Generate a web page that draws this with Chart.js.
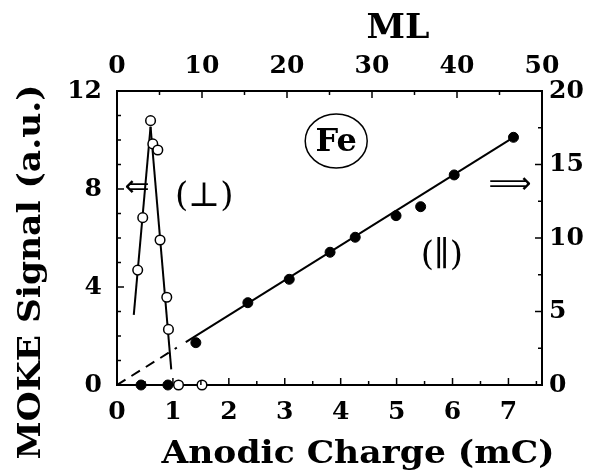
<!DOCTYPE html>
<html>
<head>
<meta charset="utf-8">
<script src="https://cdn.jsdelivr.net/npm/chart.js@4"></script>
<style>
  html, body { margin: 0; padding: 0; background: #fff; }
  #wrap { width: 600px; height: 470px; }
</style>
</head>
<body>
<div id="wrap"><canvas id="chart" width="600" height="470"></canvas></div>
<script>
// open circles: perpendicular signal (left axis, a.u.) vs anodic charge (mC)
const perpCharge = [0.37, 0.46, 0.60, 0.64, 0.73, 0.77, 0.89, 0.92, 1.10, 1.52];
const perpSignal = [4.69, 6.83, 10.79, 9.84, 9.59, 5.92, 3.58, 2.27, 0, 0];

// filled circles: parallel signal (right axis) vs anodic charge
const paraCharge = [0.43, 0.91, 1.41, 2.34, 3.08, 3.81, 4.26, 4.99, 5.43, 6.03, 7.09];
const paraSignal = [0, 0, 2.88, 5.60, 7.19, 9.03, 10.05, 11.52, 12.13, 14.29, 16.85];

// guide lines drawn through the points
const riseCharge = [0.30, 0.60];
const riseSignal = [2.86, 10.54];
const fallCharge = [0.60, 0.97];
const fallSignal = [10.54, 0.64];
const fitCharge = [1.23, 7.09];
const fitSignal = [2.92, 16.85];
const dashCharge = [0, 1.07];
const dashSignal = [0, 2.54];

// axis ranges
const chargeMax = 7.6;
const mlMax = 50;
const leftMax = 12;
const rightMax = 20;

// labels placed in the plot (x in mC, y in left axis units)
const notes = [
  { text: '\u21D0', x: 0.36, y: 8.12, font: '30px "DejaVu Sans"' },
  { text: '(\u22A5)', x: 1.56, y: 7.76, font: '34px "DejaVu Serif"' },
  { text: 'Fe', x: 3.92, y: 9.96, font: 'bold 32px "DejaVu Serif"', ring: true },
  { text: '\u27F9', x: 7.03, y: 8.24, font: '30px "DejaVu Sans"' },
  { text: '(\u2225)', x: 5.81, y: 5.35, font: '34px "DejaVu Serif"' }
];

const toPts = (xs, ys) => xs.map((x, i) => ({ x: x, y: ys[i] }));

const tickFont = { family: 'DejaVu Serif', size: 25, weight: 'bold' };

function fitText(ctx, text, x, y, width, rot) {
  ctx.save();
  ctx.translate(x, y);
  if (rot) ctx.rotate(rot);
  const w = ctx.measureText(text).width;
  ctx.scale(width / w, 1);
  ctx.fillText(text, 0, 0);
  ctx.restore();
}

const extras = {
  id: 'extras',
  afterDraw(chart) {
    const ctx = chart.ctx;
    const a = chart.chartArea;
    const sx = chart.scales.x, sy = chart.scales.y;
    ctx.save();
    ctx.strokeStyle = '#000';
    ctx.fillStyle = '#000';
    ctx.lineWidth = 1.5;

    // tick marks pointing into the plot
    ['x', 'x2', 'y', 'y2'].forEach(id => {
      const s = chart.scales[id];
      s.ticks.forEach(t => {
        const p = s.getPixelForValue(t.value);
        const len = t.label !== '' ? 7 : 4;
        ctx.beginPath();
        if (id === 'x') { ctx.moveTo(p, a.bottom); ctx.lineTo(p, a.bottom - len); }
        if (id === 'x2') { ctx.moveTo(p, a.top); ctx.lineTo(p, a.top + len); }
        if (id === 'y') { ctx.moveTo(a.left, p); ctx.lineTo(a.left + len, p); }
        if (id === 'y2') { ctx.moveTo(a.right, p); ctx.lineTo(a.right - len, p); }
        ctx.stroke();
      });
    });

    // axis titles
    ctx.textAlign = 'center';
    ctx.textBaseline = 'alphabetic';
    ctx.font = 'bold 32px "DejaVu Serif"';
    fitText(ctx, 'Anodic Charge (mC)', 358, 463, 393);
    fitText(ctx, 'MOKE Signal (a.u.)', 40, 272, 375, -Math.PI / 2);
    ctx.font = 'bold 34px "DejaVu Serif"';
    fitText(ctx, 'ML', 398, 38, 63);

    // in-plot labels
    ctx.textBaseline = 'middle';
    notes.forEach(n => {
      const px = sx.getPixelForValue(n.x);
      const py = sy.getPixelForValue(n.y);
      ctx.font = n.font;
      ctx.fillText(n.text, px, py + 2);
      if (n.ring) {
        ctx.beginPath();
        ctx.ellipse(px, py, 31, 27, 0, 0, Math.PI * 2);
        ctx.stroke();
      }
    });
    ctx.restore();
  }
};

const lineSet = (pts, dash) => ({
  data: pts,
  xAxisID: 'x',
  showLine: true,
  borderColor: '#000',
  borderWidth: 2,
  borderDash: dash || [],
  pointRadius: 0,
  fill: false,
  order: 2
});

new Chart(document.getElementById('chart'), {
  type: 'scatter',
  data: {
    datasets: [
      Object.assign(lineSet(toPts(riseCharge, riseSignal)), { yAxisID: 'y' }),
      Object.assign(lineSet(toPts(fallCharge, fallSignal)), { yAxisID: 'y' }),
      Object.assign(lineSet(toPts(fitCharge, fitSignal)), { yAxisID: 'y2' }),
      Object.assign(lineSet(toPts(dashCharge, dashSignal), [10, 7]), { yAxisID: 'y2' }),
      {
        data: toPts(perpCharge, perpSignal),
        xAxisID: 'x', yAxisID: 'y',
        pointStyle: 'circle',
        pointRadius: 4.8,
        pointBackgroundColor: '#fff',
        pointBorderColor: '#000',
        pointBorderWidth: 1.5,
        clip: false,
        order: 1
      },
      {
        data: toPts(paraCharge, paraSignal),
        xAxisID: 'x', yAxisID: 'y2',
        pointStyle: 'circle',
        pointRadius: 5,
        pointBackgroundColor: '#000',
        pointBorderColor: '#000',
        pointBorderWidth: 1,
        clip: false,
        order: 0
      }
    ]
  },
  options: {
    responsive: false,
    animation: false,
    layout: { padding: 0 },
    plugins: { legend: { display: false }, tooltip: { enabled: false } },
    scales: {
      x: {
        type: 'linear', position: 'bottom', min: 0, max: chargeMax,
        grid: { display: false, drawTicks: false, tickLength: 0 },
        border: { display: true, color: '#000', width: 2 },
        ticks: {
          stepSize: 0.5, autoSkip: false, includeBounds: false, maxRotation: 0,
          padding: 12, color: '#000', font: tickFont,
          callback: v => Number.isInteger(v) ? String(v) : ''
        },
        afterFit: s => { s.height = 85; }
      },
      x2: {
        type: 'linear', position: 'top', min: 0, max: mlMax,
        grid: { display: false, drawTicks: false, tickLength: 0 },
        border: { display: true, color: '#000', width: 2 },
        ticks: {
          stepSize: 5, autoSkip: false, includeBounds: false, maxRotation: 0,
          padding: 10, color: '#000', font: tickFont,
          callback: v => v % 10 === 0 ? String(v) : ''
        },
        afterFit: s => { s.height = 91; }
      },
      y: {
        type: 'linear', position: 'left', min: 0, max: leftMax,
        grid: { display: false, drawTicks: false, tickLength: 0 },
        border: { display: true, color: '#000', width: 2 },
        ticks: {
          stepSize: 1, autoSkip: false, includeBounds: false,
          padding: 15, color: '#000', font: tickFont,
          callback: v => v % 4 === 0 ? String(v) : ''
        },
        afterFit: s => { s.width = 117; }
      },
      y2: {
        type: 'linear', position: 'right', min: 0, max: rightMax,
        grid: { display: false, drawTicks: false, tickLength: 0 },
        border: { display: true, color: '#000', width: 2 },
        ticks: {
          stepSize: 2.5, autoSkip: false, includeBounds: false,
          padding: 7, color: '#000', font: tickFont,
          callback: v => v % 5 === 0 ? String(v) : ''
        },
        afterFit: s => { s.width = 58; }
      }
    }
  },
  plugins: [extras]
});
</script>
</body>
</html>
